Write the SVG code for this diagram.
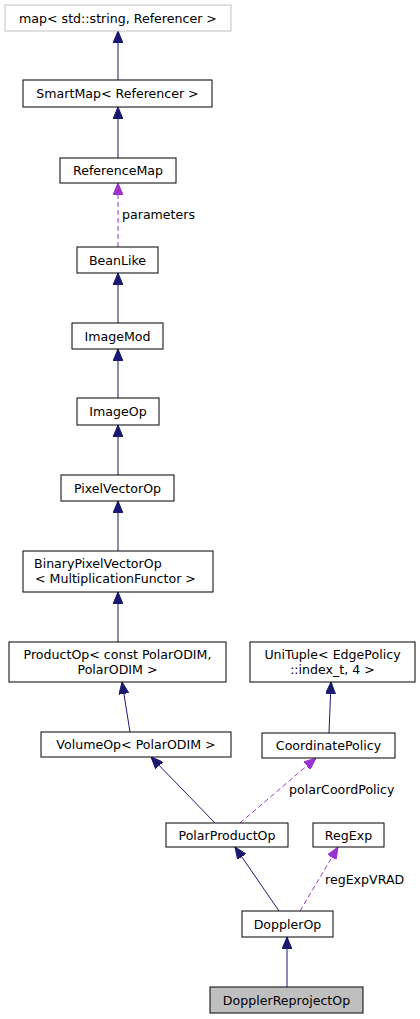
<svg xmlns="http://www.w3.org/2000/svg" width="420" height="1019" viewBox="0 0 420 1019">
<style>
text{font-family:"DejaVu Sans","Liberation Sans",sans-serif;font-size:12.6px;fill:#000}
.n rect{fill:#fff;stroke:#000;stroke-width:1}
.ext rect{stroke:#bfbfbf}
.cur rect{fill:#bfbfbf}
.e{fill:none;stroke:#191970;stroke-width:1}
.u{fill:none;stroke:#9a32cd;stroke-width:1;stroke-dasharray:5,3}
.c{text-anchor:middle}
</style>
<defs>
<marker id="ah" viewBox="0 0 12 10" refX="12" refY="5" markerWidth="12" markerHeight="10" markerUnits="userSpaceOnUse" orient="auto">
<path d="M0,0 L12,5 L0,10 z" fill="#191970" stroke="#191970"/>
</marker>
<marker id="ap" viewBox="0 0 12 10" refX="12" refY="5" markerWidth="12" markerHeight="10" markerUnits="userSpaceOnUse" orient="auto">
<path d="M0,0 L12,5 L0,10 z" fill="#9a32cd" stroke="#9a32cd"/>
</marker>
</defs>
<g id="edges">
<path class="e" d="M118,80 L118,31" marker-end="url(#ah)"/>
<path class="e" d="M118,158 L118,107" marker-end="url(#ah)"/>
<path class="u" d="M118,247 L118,183" marker-end="url(#ap)"/>
<text x="122" y="218.5">parameters</text>
<path class="e" d="M118,323 L118,273" marker-end="url(#ah)"/>
<path class="e" d="M118,398 L118,349" marker-end="url(#ah)"/>
<path class="e" d="M118,475 L118,425" marker-end="url(#ah)"/>
<path class="e" d="M118,551 L118,501" marker-end="url(#ah)"/>
<path class="e" d="M118,642 L118,592" marker-end="url(#ah)"/>
<path class="e" d="M130,732 L122,682" marker-end="url(#ah)"/>
<path class="e" d="M329,733 L331,682" marker-end="url(#ah)"/>
<path class="e" d="M215,823 L151,757" marker-end="url(#ah)"/>
<path class="u" d="M240,823 L316,758" marker-end="url(#ap)"/>
<text x="289" y="793.5">polarCoordPolicy</text>
<path class="e" d="M279,911 L235,847" marker-end="url(#ah)"/>
<path class="u" d="M300,911 L338,847" marker-end="url(#ap)"/>
<text x="325" y="883.5">regExpVRAD</text>
<path class="e" d="M287,987 L287,937" marker-end="url(#ah)"/>
</g>
<g id="map" class="n ext"><rect x="5" y="5" width="226" height="26"/><text class="c" x="118" y="22.5">map&lt; std::string, Referencer &gt;</text></g>
<g id="SmartMap" class="n"><rect x="23" y="80" width="189" height="27"/><text class="c" x="117.5" y="98">SmartMap&lt; Referencer &gt;</text></g>
<g id="ReferenceMap" class="n"><rect x="60" y="158" width="116" height="25"/><text class="c" x="118" y="175">ReferenceMap</text></g>
<g id="BeanLike" class="n"><rect x="77" y="247" width="81" height="26"/><text class="c" x="117.5" y="264.5">BeanLike</text></g>
<g id="ImageMod" class="n"><rect x="72" y="323" width="91" height="26"/><text class="c" x="117.5" y="340.5">ImageMod</text></g>
<g id="ImageOp" class="n"><rect x="77" y="398" width="82" height="27"/><text class="c" x="118" y="416">ImageOp</text></g>
<g id="PixelVectorOp" class="n"><rect x="61" y="475" width="113" height="26"/><text class="c" x="117.5" y="492.5">PixelVectorOp</text></g>
<g id="BinaryPixelVectorOp" class="n"><rect x="23" y="551" width="190" height="41"/><text x="34" y="567.5">BinaryPixelVectorOp</text><text x="35" y="582.5">&lt; MultiplicationFunctor &gt;</text></g>
<g id="ProductOp" class="n"><rect x="9" y="642" width="217" height="40"/><text class="c" x="117.5" y="658.5">ProductOp&lt; const PolarODIM,</text><text class="c" x="117.5" y="673.5">PolarODIM &gt;</text></g>
<g id="UniTuple" class="n"><rect x="250" y="642" width="165" height="40"/><text class="c" x="332.5" y="658.5">UniTuple&lt; EdgePolicy</text><text class="c" x="332.5" y="673.5">::index_t, 4 &gt;</text></g>
<g id="VolumeOp" class="n"><rect x="41" y="732" width="190" height="25"/><text class="c" x="136" y="749">VolumeOp&lt; PolarODIM &gt;</text></g>
<g id="CoordinatePolicy" class="n"><rect x="262" y="733" width="133" height="25"/><text class="c" x="328.5" y="750">CoordinatePolicy</text></g>
<g id="PolarProductOp" class="n"><rect x="166" y="823" width="122" height="24"/><text class="c" x="227" y="839.5">PolarProductOp</text></g>
<g id="RegExp" class="n"><rect x="313" y="823" width="71" height="24"/><text class="c" x="348.5" y="839.5">RegExp</text></g>
<g id="DopplerOp" class="n"><rect x="242" y="911" width="91" height="26"/><text class="c" x="287.5" y="928.5">DopplerOp</text></g>
<g id="DopplerReprojectOp" class="n cur"><rect x="210" y="987" width="153" height="26"/><text class="c" x="286.5" y="1004.5">DopplerReprojectOp</text></g>
</svg>
